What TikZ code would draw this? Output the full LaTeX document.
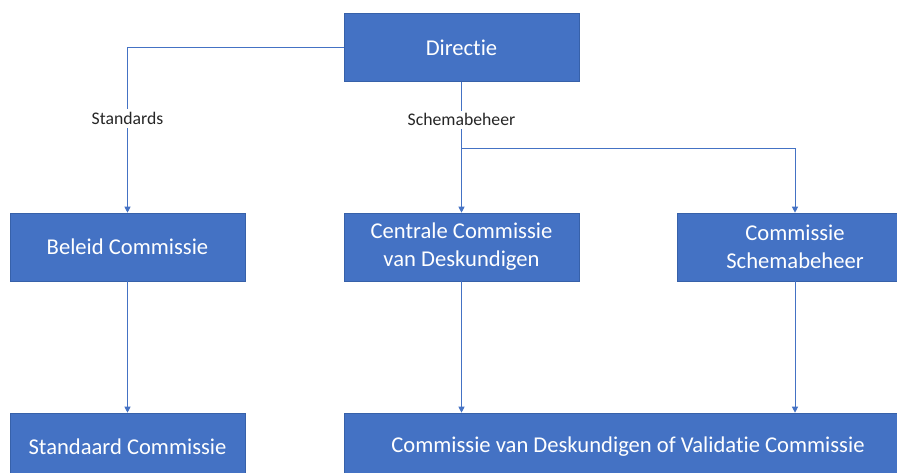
\documentclass[tikz,border=0pt]{standalone}
\usepackage{fontspec}
\setmainfont[Ligatures=NoCommon]{Carlito}
\usetikzlibrary{arrows.meta}
\definecolor{boxblue}{HTML}{4472C4}
\definecolor{edgeblue}{HTML}{2F5597}
\begin{document}
\begin{tikzpicture}[x=1pt,y=-1pt,
  box/.style={draw=edgeblue!60!boxblue, line width=0.6pt, fill=boxblue, text=white,
    minimum height=68pt, inner sep=0pt, align=center, font=\fontsize{22.6}{28}\selectfont},
  conn/.style={draw=boxblue, line width=1pt},
  arr/.style={conn, -{Triangle[length=6pt,width=6pt]}},
  lbl/.style={fill=white, text=black!85, inner sep=3pt, font=\fontsize{17.7}{20}\selectfont}]
\useasboundingbox (0,0) rectangle (897,473);
\begin{scope}
\clip (0,0) rectangle (897,473);
\node[box, minimum width=235pt] (dir) at (461.5,47.5) {Directie};
\node[box, minimum width=235pt] (bel) at (127.5,247) {Beleid Commissie};
\node[box, minimum width=235pt] (cen) at (461.5,247) {Centrale Commissie\\van Deskundigen};
\node[box, minimum width=236pt] (sch) at (795,247) {Commissie\\Schemabeheer};
\node[box, minimum width=235pt] (std) at (127.5,447) {Standaard Commissie};
\node[box, minimum width=568pt] (val) at (628,447) {Commissie van Deskundigen of Validatie Commissie};
\coordinate (j) at (461.5,149);
\draw[arr] (dir.west) -| node[lbl, pos=0.715] {Standards} (bel.north);
\draw[arr] (dir.south) -- node[lbl, pos=0.29] {Schemabeheer} (cen.north);
\draw[arr] (j) -| (sch.north);
\draw[arr] (bel.south) -- (std.north);
\draw[arr] (cen.south) -- (cen.south |- val.north);
\draw[arr] (sch.south) -- (sch.south |- val.north);
\end{scope}
\end{tikzpicture}
\end{document}
